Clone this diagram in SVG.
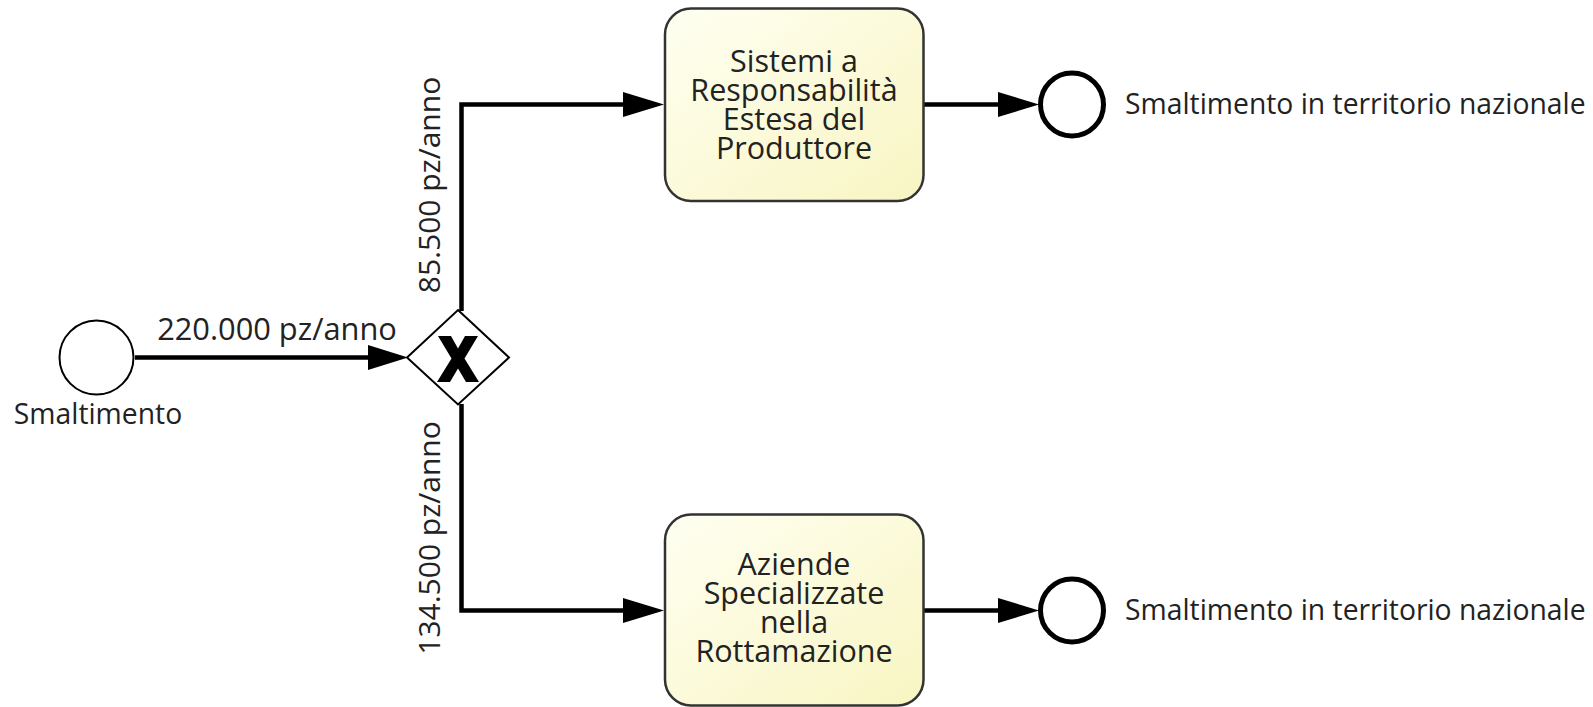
<svg xmlns="http://www.w3.org/2000/svg" width="1593" height="707" viewBox="0 0 1593 707">
<style>
text{font-family:"Open Sans","Liberation Sans",sans-serif;fill:#222}
.edge{fill:none;stroke:#000;stroke-width:4.5}
.task{fill:url(#tg);stroke:#333;stroke-width:2.5}
.lbl{font-size:30px}
.ev{font-size:28.3px}
.tt{font-size:30.5px;text-anchor:middle}
</style>
<defs>
<linearGradient id="tg" x1="0" y1="0" x2="1" y2="1">
<stop offset="0" stop-color="#fffff2"/>
<stop offset="1" stop-color="#f8f5c2"/>
</linearGradient>
</defs>
<g id="connectors">
<path class="edge" d="M135,357.5 H370"/>
<polygon points="368,345 408,357.5 368,370" fill="#000"/>
<path class="edge" d="M461.5,311 V104.5 H625"/>
<polygon points="623,92 664,104.5 623,117" fill="#000"/>
<path class="edge" d="M461.5,404 V610.5 H625"/>
<polygon points="623,598 664,610.5 623,623" fill="#000"/>
<path class="edge" d="M924,104.5 H1000"/>
<polygon points="998,92 1039,104.5 998,117" fill="#000"/>
<path class="edge" d="M924,610.5 H1000"/>
<polygon points="998,598 1039,610.5 998,623" fill="#000"/>
<text class="lbl" x="277" y="340" text-anchor="middle" style="font-size:30.8px">220.000 pz/anno</text>
<text class="lbl" transform="translate(440,185) rotate(-90)" text-anchor="middle">85.500 pz/anno</text>
<text class="lbl" transform="translate(440,538) rotate(-90)" text-anchor="middle">134.500 pz/anno</text>
</g>
<g id="start">
<circle cx="96.5" cy="357.5" r="37" fill="#fff" stroke="#000" stroke-width="2"/>
<text class="ev" x="98" y="424" text-anchor="middle">Smaltimento</text>
</g>
<g id="gateway">
<polygon points="458,310 509,357.5 458,404.5 407,357.5" fill="#fff" stroke="#000" stroke-width="2"/>
<path d="M438,336 H451 L458,348.5 L465,336 H478 L464.5,358.5 L479,382 H466 L458,368.5 L450,382 H437 L451.5,358.5 Z" fill="#000"/>
</g>
<g id="task1">
<rect class="task" x="665" y="8.5" width="258.5" height="192.5" rx="26"/>
<text class="tt" x="794" y="72">Sistemi a</text>
<text class="tt" x="794" y="101">Responsabilità</text>
<text class="tt" x="794" y="130">Estesa del</text>
<text class="tt" x="794" y="158.5">Produttore</text>
</g>
<g id="task2">
<rect class="task" x="665" y="514.5" width="258.5" height="191" rx="26"/>
<text class="tt" x="794" y="575">Aziende</text>
<text class="tt" x="794" y="604">Specializzate</text>
<text class="tt" x="794" y="633">nella</text>
<text class="tt" x="794" y="661.5">Rottamazione</text>
</g>
<g id="end1">
<circle cx="1072" cy="104.5" r="31.5" fill="#fff" stroke="#000" stroke-width="5"/>
<text class="ev" x="1125" y="114">Smaltimento in territorio nazionale</text>
</g>
<g id="end2">
<circle cx="1072" cy="610.5" r="31.5" fill="#fff" stroke="#000" stroke-width="5"/>
<text class="ev" x="1125" y="620">Smaltimento in territorio nazionale</text>
</g>
</svg>
